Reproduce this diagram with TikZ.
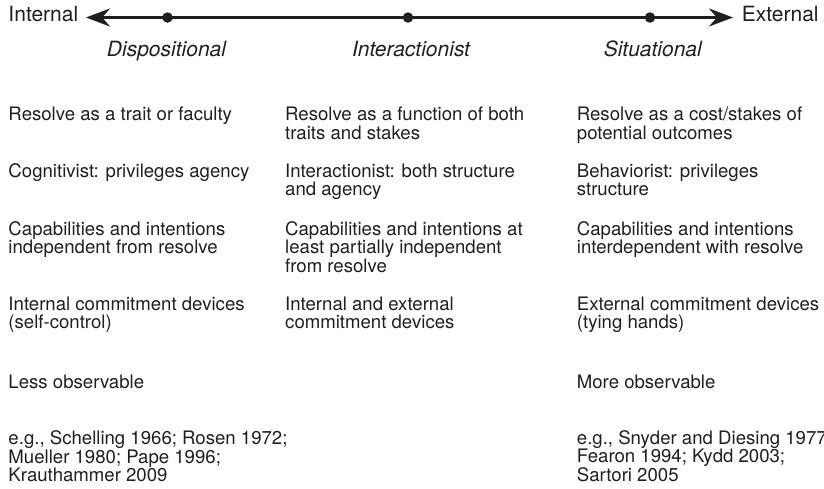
\documentclass[tikz,border=0pt]{standalone}
\usepackage{fontspec}
\setmainfont{TeX Gyre Heros}
\usetikzlibrary{arrows.meta}
\definecolor{ink}{gray}{0.12}
\begin{document}
\begin{tikzpicture}[x=1pt,y=-1pt,
  % multi-line cells are placed by the baseline of their last line
  cell/.style={anchor=base west, inner sep=0pt, align=left,
    font=\fontsize{18.6}{18.5}\selectfont, text=ink},
  refs/.style={cell, font=\fontsize{18.6}{17.6}\selectfont},
  endlabel/.style={anchor=base west, inner sep=0pt,
    font=\fontsize{21}{24}\selectfont, text=ink},
  kind/.style={anchor=base, inner sep=0pt,
    font=\fontsize{21}{24}\selectfont\itshape, text=ink},
  dot/.style={circle, fill=ink, inner sep=0pt, minimum size=10.5pt},
  axis/.style={line width=2.6pt, draw=ink,
    {Stealth[length=24pt, width=18pt]}-{Stealth[length=24pt, width=18pt]}}
]
\useasboundingbox (0,0) rectangle (824,488);

% the internal--external axis
\coordinate (tipL) at (86,17.5);
\coordinate (tipR) at (733,17.5);
\draw[axis] (tipL) -- (tipR);
\node[dot] (dDisp) at (167.5,17.5) {};
\node[dot] (dInter) at (408,17.5) {};
\node[dot] (dSit) at (650,17.5) {};

\node[endlabel] (internal) at (8.3,21.7) {Internal};
\node[endlabel] (external) at (741.7,21.7) {External};

% the three approaches
\node[kind] (kDisp) at (166.5,56) {Dispositional};
\node[kind] (kInter) at (411,56) {Interactionist};
\node[kind] (kSit) at (652.8,56) {Situational};

% dispositional column
\node[cell] (a1) at (8.3,120.7) {Resolve as a trait or faculty};
\node[cell] (a2) at (8.3,177.3) {Cognitivist: privileges agency};
\node[cell] (a3) at (8.3,253.5) {Capabilities and intentions\\independent from resolve};
\node[cell] (a4) at (8.3,328.5) {Internal commitment devices\\(self-control)};
\node[cell] (a5) at (8.3,388.5) {Less observable};
\node[refs] (a6) at (8.3,481.7) {e.g., Schelling 1966; Rosen 1972;\\Mueller 1980; Pape 1996;\\Krauthammer 2009};

% interactionist column
\node[cell] (b1) at (285,139.2) {Resolve as a function of both\\traits and stakes};
\node[cell] (b2) at (285,195.8) {Interactionist: both structure\\and agency};
\node[cell] (b3) at (285,272) {Capabilities and intentions at\\least partially independent\\from resolve};
\node[cell] (b4) at (285,328.5) {Internal and external\\commitment devices};

% situational column
\node[cell] (c1) at (576.7,139.2) {Resolve as a cost/stakes of\\potential outcomes};
\node[cell] (c2) at (576.7,195.8) {Behaviorist: privileges\\structure};
\node[cell] (c3) at (576.7,253.5) {Capabilities and intentions\\interdependent with resolve};
\node[cell] (c4) at (576.7,328.5) {External commitment devices\\(tying hands)};
\node[cell] (c5) at (576.7,388.5) {More observable};
\node[refs] (c6) at (576.7,481.7) {e.g., Snyder and Diesing 1977;\\Fearon 1994; Kydd 2003;\\Sartori 2005};
\end{tikzpicture}
\end{document}
